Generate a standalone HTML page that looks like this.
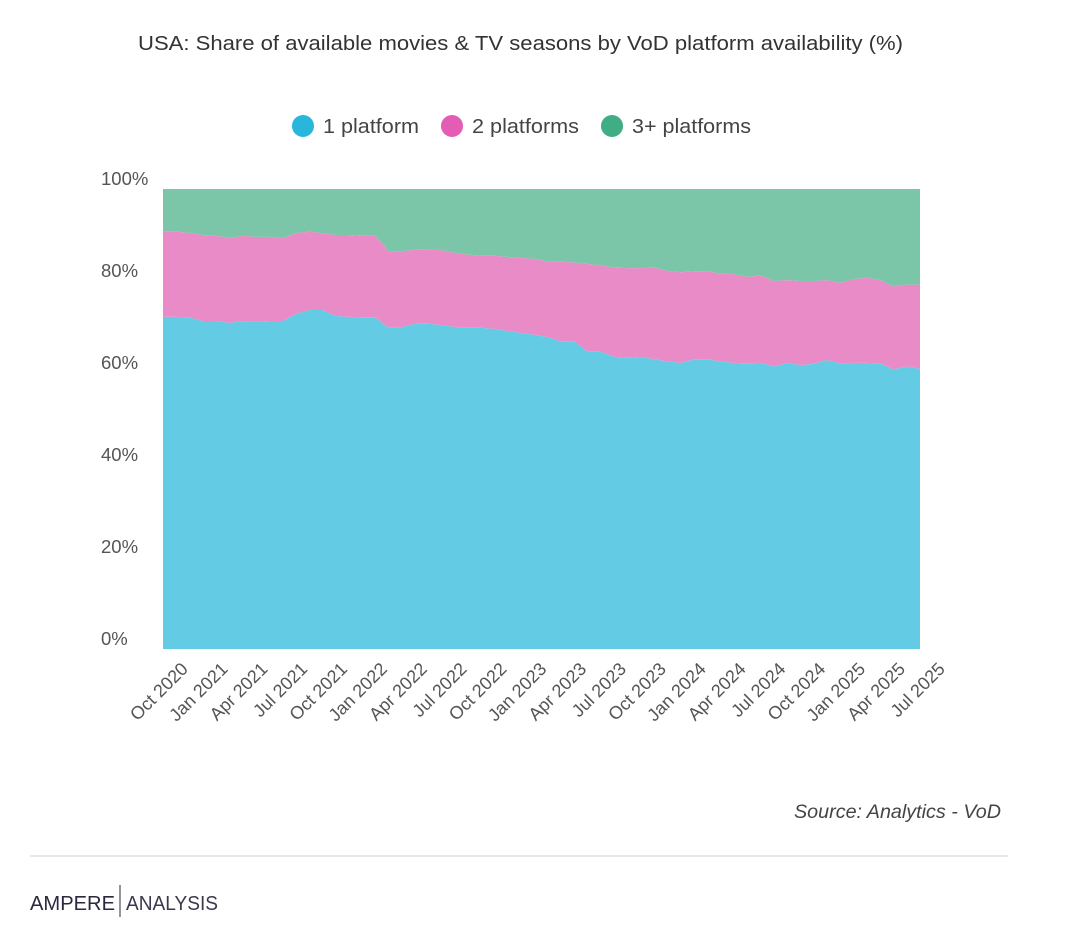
<!DOCTYPE html>
<html><head><meta charset="utf-8"><style>
body{margin:0;background:#fff;font-family:"Liberation Sans",sans-serif;}
svg{display:block}
</style></head><body>
<svg id="c" width="1065" height="925">
<text x="138" y="50" font-size="20" fill="#333" textLength="765" lengthAdjust="spacingAndGlyphs">USA: Share of available movies &amp; TV seasons by VoD platform availability (%)</text>
<g>
<circle cx="303" cy="126" r="11" fill="#29b6dc"/>
<text x="323" y="133" font-size="20" fill="#444" textLength="96" lengthAdjust="spacingAndGlyphs">1 platform</text>
<circle cx="452" cy="126" r="11" fill="#e55cb4"/>
<text x="472" y="133" font-size="20" fill="#444" textLength="107" lengthAdjust="spacingAndGlyphs">2 platforms</text>
<circle cx="612" cy="126" r="11" fill="#41ad84"/>
<text x="632" y="133" font-size="20" fill="#444" textLength="119" lengthAdjust="spacingAndGlyphs">3+ platforms</text>
</g>
<g id="plot"></g>
<text x="794" y="818" font-size="19" font-style="italic" fill="#444" textLength="207" lengthAdjust="spacingAndGlyphs">Source: Analytics - VoD</text>
<line x1="30" y1="856" x2="1008" y2="856" stroke="#e8e8e8" stroke-width="2"/>
<g>
<text x="30" y="910" font-size="20" fill="#2a2940" textLength="85" lengthAdjust="spacingAndGlyphs">AMPERE</text>
<line x1="120" y1="885" x2="120" y2="917" stroke="#2a2940" stroke-width="1"/>
<text x="126" y="910" font-size="20" fill="#3a3950" textLength="92" lengthAdjust="spacingAndGlyphs">ANALYSIS</text>
</g>
</svg>
<script>
const months=["Oct 2020","Nov 2020","Dec 2020","Jan 2021","Feb 2021","Mar 2021","Apr 2021","May 2021","Jun 2021","Jul 2021","Aug 2021","Sep 2021","Oct 2021","Nov 2021","Dec 2021","Jan 2022","Feb 2022","Mar 2022","Apr 2022","May 2022","Jun 2022","Jul 2022","Aug 2022","Sep 2022","Oct 2022","Nov 2022","Dec 2022","Jan 2023","Feb 2023","Mar 2023","Apr 2023","May 2023","Jun 2023","Jul 2023","Aug 2023","Sep 2023","Oct 2023","Nov 2023","Dec 2023","Jan 2024","Feb 2024","Mar 2024","Apr 2024","May 2024","Jun 2024","Jul 2024","Aug 2024","Sep 2024","Oct 2024","Nov 2024","Dec 2024","Jan 2025","Feb 2025","Mar 2025","Apr 2025","May 2025","Jun 2025","Jul 2025"];
const onePlatform=[72.2,72.2,72.1,71.3,71.3,70.9,71.3,71.1,71.3,71.3,72.8,73.7,73.7,72.4,72.2,72.0,72.0,69.8,70.0,70.7,70.7,70.4,70.0,69.8,69.8,69.6,69.1,68.7,68.3,67.8,66.8,66.8,64.6,64.6,63.5,63.3,63.5,63.0,62.5,62.2,63.0,63.0,62.5,62.2,62.1,62.2,61.4,62.2,61.7,62.0,62.8,62.1,62.2,62.2,62.1,60.8,61.4,60.9];
const twoPlatforms=[18.5,18.5,18.4,18.7,18.5,18.5,18.5,18.5,18.3,18.0,17.6,17.0,16.7,17.6,17.8,17.8,17.8,16.7,16.5,16.1,16.1,16.3,16.1,15.9,15.7,15.9,16.1,16.3,16.5,16.4,17.4,17.2,19.1,18.8,19.4,19.5,19.3,19.9,19.7,19.7,19.1,19.1,19.1,19.3,18.8,19.0,18.6,18.0,18.3,18.0,17.4,17.5,18.2,18.5,18.1,18.0,17.8,18.3];
const threePlus=onePlatform.map((v,i)=>+(100-v-twoPlatforms[i]).toFixed(1));
const yTicks=[0,20,40,60,80,100];
const xTickEvery=3;

const X0=163,X1=920,Y0=649,Y1=189;
const xs=i=>X0+(X1-X0)*i/(months.length-1);
const ys=v=>Y0-(Y0-Y1)*v/100;
const NS="http://www.w3.org/2000/svg";
const plot=document.getElementById('plot');
function area(lo,hi,fill,name){
  let d="M"+lo.map((v,i)=>xs(i)+","+ys(v)).join("L");
  for(let i=hi.length-1;i>=0;i--)d+="L"+xs(i)+","+ys(hi[i]);
  const p=document.createElementNS(NS,"path");
  p.setAttribute("d",d+"Z");p.setAttribute("fill",fill);
  
  
  plot.appendChild(p);
}
const zero=months.map(()=>0);
const c1=onePlatform.slice();
const c2=onePlatform.map((v,i)=>v+twoPlatforms[i]);
const c3=c2.map((v,i)=>v+threePlus[i]);
area(zero,c1,"#63cbe4","area-1-platform");
area(c1,c2,"#e98bc6","area-2-platforms");
area(c2,c3,"#7bc5a9","area-3plus-platforms");
yTicks.forEach(t=>{
  const tx=document.createElementNS(NS,"text");
  tx.setAttribute("x",101);tx.setAttribute("y",ys(t)-4);
  tx.setAttribute("font-size","18.5");tx.setAttribute("fill","#555");
  tx.textContent=t+"%";
  
  
  plot.appendChild(tx);
});
months.forEach((m,i)=>{
  if(i%xTickEvery)return;
  const ax=xs(i)+26,ay=Y0+21;
  const tx=document.createElementNS(NS,"text");
  tx.setAttribute("x",ax);tx.setAttribute("y",ay);
  tx.setAttribute("text-anchor","end");
  tx.setAttribute("font-size","18");tx.setAttribute("fill","#555");
  tx.setAttribute("transform","rotate(-45 "+ax+" "+ay+")");
  tx.textContent=m;
  
  
  plot.appendChild(tx);
});
</script>
</body></html>
